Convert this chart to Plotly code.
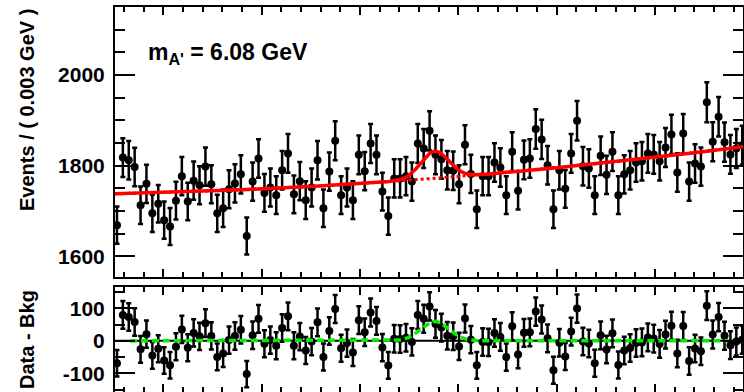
import numpy as np
import plotly.graph_objects as go

# ---- binned candidate yields (0.003 GeV bins) ----
BIN_WIDTH = 0.003
FIRST_BIN_CENTER = 5.9264
counts = [
    1669, 1818, 1812, 1797, 1713, 1760, 1695, 1716, 1680, 1666,
    1723, 1777, 1721, 1767, 1757, 1798, 1759, 1695, 1706, 1748,
    1761, 1781, 1645, 1765, 1816, 1740, 1752, 1735, 1790, 1827,
    1737, 1766, 1724, 1752, 1812, 1706, 1787, 1855, 1735, 1752,
    1724, 1824, 1788, 1849, 1824, 1743, 1689, 1772, 1772, 1777,
    1765, 1849, 1838, 1877, 1824, 1814, 1790, 1789, 1759, 1846,
    1782, 1704, 1777, 1777, 1807, 1796, 1735, 1831, 1745, 1813,
    1816, 1881, 1858, 1801, 1704, 1790, 1749, 1827, 1899, 1799,
    1794, 1735, 1822, 1780, 1831, 1735, 1781, 1790, 1807, 1810,
    1827, 1825, 1810, 1840, 1869, 1785, 1871, 1765, 1805, 1798,
    1940, 1853, 1908, 1852, 1825, 1838, 1845,
]

# ---- fit result: quadratic background + Gaussian signal ----
BKG_REF_MASS = 5.9254
BKG_COEFFS = [1738.0, 90.0, 737.0]
SIG_MEAN = 6.088
SIG_SIGMA = 0.0071
SIG_AMP = 60.0

MASS_RANGE = [5.9254, 6.2448]
SIGNAL_CURVE_RANGE = [5.933, 6.237]
EVENTS_RANGE = [1555.3, 2150.6]
RESID_RANGE = [-157.5, 164.6]
EVENTS_TICKS = [1600, 1800, 2000]
RESID_TICKS = [-100, 0, 100]
RESID_TICK_TEXT = ["-100", "0", "100"]

LABEL = "m<sub>A'</sub> = 6.08 GeV"
Y_TITLE_TOP = "Events / ( 0.003 GeV )"
Y_TITLE_BOTTOM = "Data - Bkg"


def background(m):
    d = m - BKG_REF_MASS
    return BKG_COEFFS[0] + BKG_COEFFS[1] * d + BKG_COEFFS[2] * d * d


def signal(m):
    return SIG_AMP * np.exp(-0.5 * ((m - SIG_MEAN) / SIG_SIGMA) ** 2)


counts_arr = np.array(counts, dtype=float)
centers = FIRST_BIN_CENTER + BIN_WIDTH * np.arange(len(counts))
errors = np.sqrt(counts_arr)
resid = counts_arr - background(centers)

m_full = np.linspace(MASS_RANGE[0], MASS_RANGE[1], 800)
m_sig = np.linspace(SIGNAL_CURVE_RANGE[0], SIGNAL_CURVE_RANGE[1], 800)

W, H = 744, 392
ML, MR = 115, 1
FONT = "Liberation Sans, Arial, Helvetica, sans-serif"

fig = go.Figure()

err_style = dict(type="data", visible=True, color="black", thickness=2.5, width=2.5)
marker_style = dict(color="black", size=8)

# upper panel: data, background (dotted) and total fit
fig.add_trace(go.Scatter(
    x=centers, y=counts_arr, mode="markers", xaxis="x", yaxis="y",
    marker=marker_style,
    error_y=dict(array=errors, **err_style), showlegend=False))
fig.add_trace(go.Scatter(
    x=m_full, y=background(m_full), mode="lines", xaxis="x", yaxis="y",
    line=dict(color="red", width=3, dash="dot"), showlegend=False))
fig.add_trace(go.Scatter(
    x=m_full, y=background(m_full) + signal(m_full), mode="lines",
    xaxis="x", yaxis="y", line=dict(color="red", width=3.5), showlegend=False))

# lower panel: background-subtracted data and signal shape
fig.add_trace(go.Scatter(
    x=centers, y=resid, mode="markers", xaxis="x2", yaxis="y2",
    marker=marker_style,
    error_y=dict(array=errors, **err_style), showlegend=False))
fig.add_trace(go.Scatter(
    x=MASS_RANGE, y=[0, 0], mode="lines", xaxis="x2", yaxis="y2",
    line=dict(color="black", width=2), showlegend=False))
fig.add_trace(go.Scatter(
    x=m_sig, y=signal(m_sig), mode="lines", xaxis="x2", yaxis="y2",
    line=dict(color="#00f000", width=3.5, dash="7px,4px"), showlegend=False))

xcommon = dict(
    range=MASS_RANGE, showticklabels=False, ticks="inside", ticklen=8,
    tickwidth=2, tickcolor="black", tick0=0, dtick=0.05,
    minor=dict(ticks="inside", ticklen=5, tickwidth=2, tickcolor="black",
               dtick=0.01, showgrid=False),
    showline=True, linewidth=2, linecolor="black", mirror="allticks",
    showgrid=False, zeroline=False, domain=[0, 1])

ycommon = dict(
    ticks="inside", ticklen=20, tickwidth=2, tickcolor="black",
    showline=True, linewidth=2, linecolor="black", mirror="allticks",
    showgrid=False, zeroline=False, ticklabelstandoff=4,
    tickfont=dict(family=FONT, size=21, color="black", weight="bold"))

fig.update_layout(
    width=W, height=H,
    margin=dict(l=ML, r=MR, t=0, b=0, pad=0),
    paper_bgcolor="white", plot_bgcolor="white",
    xaxis=dict(anchor="y", **xcommon),
    xaxis2=dict(anchor="y2", matches="x", **xcommon),
    yaxis=dict(domain=[1 - 276.7 / H, 1 - 6.7 / H], anchor="x",
               range=EVENTS_RANGE, tickvals=EVENTS_TICKS,
               minor=dict(ticks="inside", ticklen=10, tickwidth=2,
                          tickcolor="black", tick0=0, dtick=50, showgrid=False),
               **ycommon),
    yaxis2=dict(domain=[0, 1 - 287.3 / H], anchor="x2",
                range=RESID_RANGE, tickvals=RESID_TICKS, ticktext=RESID_TICK_TEXT,
                minor=dict(ticks="inside", ticklen=10, tickwidth=2,
                           tickcolor="black", tick0=0, dtick=50, showgrid=False),
                **ycommon),
    showlegend=False,
)

pw = W - ML - MR


def px_x(px):
    return (px - ML) / pw


def px_y(py):
    return (H - py) / H


fig.add_annotation(
    text=LABEL, xref="paper", yref="paper", x=px_x(146), y=px_y(54),
    xanchor="left", yanchor="middle", showarrow=False,
    font=dict(family=FONT, size=23, color="black", weight="bold"))
fig.add_annotation(
    text=Y_TITLE_TOP, xref="paper", yref="paper", x=px_x(27), y=px_y(110),
    xanchor="center", yanchor="middle", textangle=-90, showarrow=False,
    font=dict(family=FONT, size=20, color="black", weight="bold"))
fig.add_annotation(
    text=Y_TITLE_BOTTOM, xref="paper", yref="paper", x=px_x(27), y=px_y(340),
    xanchor="center", yanchor="middle", textangle=-90, showarrow=False,
    font=dict(family=FONT, size=20, color="black", weight="bold"))

fig.write_html("out.html")
